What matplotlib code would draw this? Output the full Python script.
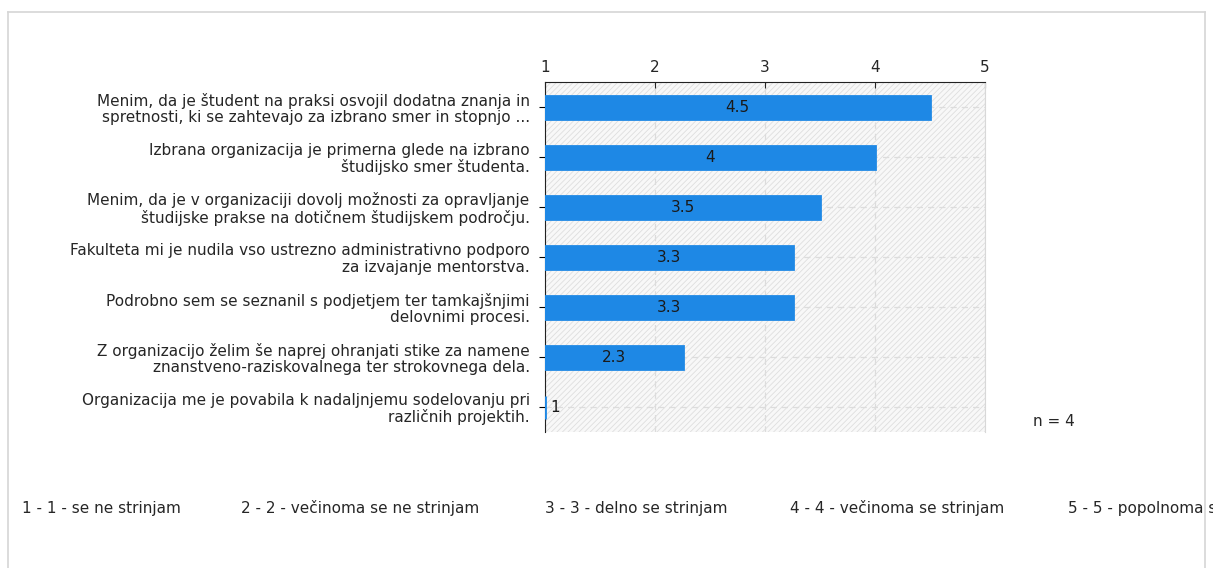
import matplotlib.pyplot as plt
from matplotlib.patches import Rectangle
from matplotlib.lines import Line2D

plt.rcParams['font.family'] = ['DejaVu Sans']
plt.rcParams['hatch.linewidth'] = 0.6

# data
questions = [
    "Menim, da je študent na praksi osvojil dodatna znanja in\nspretnosti, ki se zahtevajo za izbrano smer in stopnjo ...",
    "Izbrana organizacija je primerna glede na izbrano\nštudijsko smer študenta.",
    "Menim, da je v organizaciji dovolj možnosti za opravljanje\nštudijske prakse na dotičnem študijskem področju.",
    "Fakulteta mi je nudila vso ustrezno administrativno podporo\nza izvajanje mentorstva.",
    "Podrobno sem se seznanil s podjetjem ter tamkajšnjimi\ndelovnimi procesi.",
    "Z organizacijo želim še naprej ohranjati stike za namene\nznanstveno-raziskovalnega ter strokovnega dela.",
    "Organizacija me je povabila k nadaljnjemu sodelovanju pri\nrazličnih projektih.",
]
means = [4.5, 4.0, 3.5, 3.25, 3.25, 2.25, 1.0]
mean_labels = ["4.5", "4", "3.5", "3.3", "3.3", "2.3", "1"]
scale_labels = ["1 - 1 - se ne strinjam", "2 - 2 - večinoma se ne strinjam",
                "3 - 3 - delno se strinjam", "4 - 4 - večinoma se strinjam",
                "5 - 5 - popolnoma se strinjam"]
n_text = "n = 4"

W, H = 1213, 568
fs = 11
txt = '#262626'
fig = plt.figure(figsize=(W / 100, H / 100), dpi=100)
ax = fig.add_axes([545 / W, 1 - 432 / H, 440 / W, 350 / H])

# hatched background
ax.add_patch(Rectangle((0, 0), 1, 1, transform=ax.transAxes, facecolor='#f8f8f8',
                       edgecolor='#dedede', hatch='//////', linewidth=0, zorder=0))

y = list(range(len(questions)))
ax.barh(y, [m - 1 for m in means], left=1, height=0.46, color='#1e88e5',
        edgecolor='#1e88e5', linewidth=2, zorder=3)
for yi, m, lab in zip(y, means, mean_labels):
    if m - 1 > 0.3:
        ax.text((1 + m) / 2, yi, lab, ha='center', va='center', fontsize=fs, color='#1a1a1a', zorder=4)
    else:
        ax.text(m + 0.05, yi, lab, ha='left', va='center', fontsize=fs, color='#1a1a1a', zorder=4)

ax.set_xlim(1, 5)
ax.set_ylim(len(questions) - 0.5, -0.5)
ax.set_xticks([1, 2, 3, 4, 5])
ax.set_yticks(y)
ax.set_yticklabels(questions, fontsize=fs, color=txt, linespacing=1.1)
ax.xaxis.tick_top()
ax.tick_params(axis='x', direction='in', length=4, labelsize=fs, pad=5, colors=txt)
ax.tick_params(axis='y', direction='out', length=4, pad=7)
ax.grid(True, linestyle=(0, (5, 4)), color='#dcdcdc', linewidth=0.9, zorder=1)
ax.set_axisbelow(True)
ax.spines['bottom'].set_visible(False)
ax.spines['right'].set_color('#d8d8d8')
ax.spines['top'].set_color('#222222')
ax.spines['left'].set_color('#222222')

fig.text(1033 / W, 1 - 421 / H, n_text, fontsize=fs, va='center', ha='left', color=txt)

# scale legend along the bottom
leg_x = [22, 241, 545, 790, 1068]
for x, t in zip(leg_x, scale_labels):
    fig.text(x / W, 1 - 508 / H, t, fontsize=fs, va='center', ha='left', color=txt)

# light outer frame
fr = '#d6d6d6'
fig.add_artist(Line2D([8 / W, 8 / W], [0, 1 - 12 / H], color=fr, lw=1.2))
fig.add_artist(Line2D([1205 / W, 1205 / W], [0, 1 - 12 / H], color=fr, lw=1.2))
fig.add_artist(Line2D([8 / W, 1205 / W], [1 - 12 / H, 1 - 12 / H], color=fr, lw=1.2))

fig.savefig('out.png', dpi=100)
